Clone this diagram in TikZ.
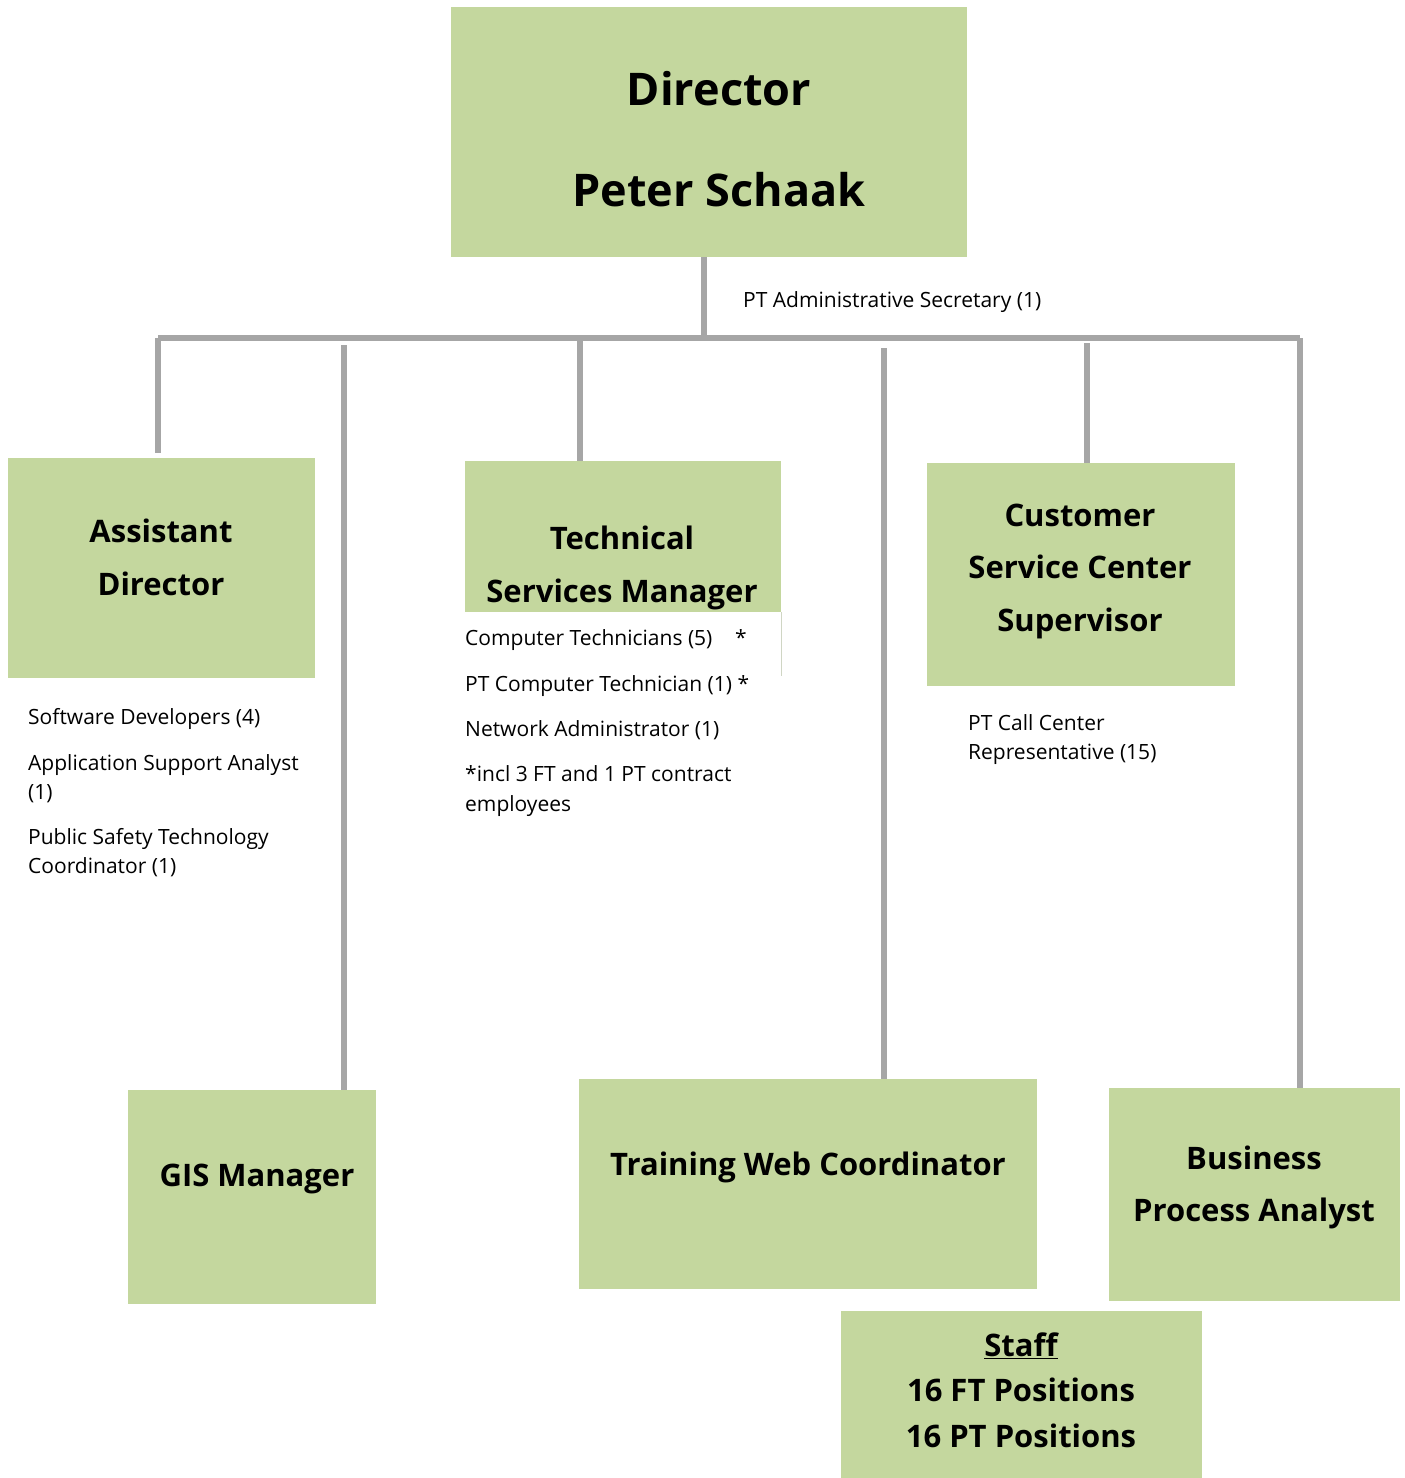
\documentclass[tikz,border=0pt]{standalone}
\usepackage{fontspec}
\setmainfont{Open Sans}
\usetikzlibrary{calc}
\definecolor{boxgreen}{RGB}{196,215,158}
\definecolor{linegray}{RGB}{166,166,166}
\definecolor{edgegray}{RGB}{208,214,196}
\begin{document}
\begin{tikzpicture}[x=1pt,y=-1pt,
  box/.style={fill=boxgreen, draw=none, inner sep=0pt, outer sep=0pt, anchor=north west},
  conn/.style={draw=linegray, line width=6pt},
  head/.style={font=\bfseries\fontsize{31}{31}\selectfont, inner sep=0pt, anchor=base},
  bighead/.style={font=\bfseries\fontsize{45}{45}\selectfont, inner sep=0pt, anchor=base},
  item/.style={font=\fontsize{21}{29}\selectfont, inner sep=0pt, anchor=base west},
]
\useasboundingbox (0,0) rectangle (1405,1478);

% boxes
\node[box, minimum width=516, minimum height=250] (dir) at (451,7) {};
\node[box, minimum width=307, minimum height=220] (ad)  at (8,458) {};
\node[box, minimum width=316, minimum height=151] (tsm) at (465,461) {};
\node[box, minimum width=308, minimum height=223] (csc) at (927,463) {};
\node[box, minimum width=248, minimum height=214] (gis) at (128,1090) {};
\node[box, minimum width=458, minimum height=210] (twc) at (579,1079) {};
\node[box, minimum width=291, minimum height=213] (bpa) at (1109,1088) {};
\node[box, minimum width=361, minimum height=167] (staff) at (841,1311) {};

% thin edge below the technical services box
\coordinate (tsmedge) at (781,676);
\draw[edgegray, line width=1pt] (tsm.south east) -- (tsmedge);

% connector bus
\coordinate (busL) at (158,338);
\coordinate (busR) at (1300,338);
\coordinate (dtap) at (704,338);
\coordinate (tgis) at (344,345);
\coordinate (ttsm) at (580,338);
\coordinate (ttwc) at (884,348);
\coordinate (tcsc) at (1087,343);

\draw[conn] (dtap |- dir.south) -- (dtap);
\draw[conn] (busL) -- (busR);
\draw[conn, shorten >=5pt] (busL) -- (busL |- ad.north);
\draw[conn] (tgis) -- (tgis |- gis.north);
\draw[conn] (ttsm) -- (ttsm |- tsm.north);
\draw[conn] (ttwc) -- (ttwc |- twc.north);
\draw[conn] (tcsc) -- (tcsc |- csc.north);
\draw[conn] (busR) -- (busR |- bpa.north);

% box titles
\node[bighead] (dirt1) at (719,105) {Director};
\node[bighead] (dirt2) at (719,206) {Peter Schaak};
\node[head] (adt1) at (161,542) {Assistant};
\node[head] (adt2) at (161,595) {Director};
\node[head] (tsmt1) at (622,549) {Technical};
\node[head] (tsmt2) at (622,602) {Services Manager};
\node[head] (csct1) at (1080,526) {Customer};
\node[head] (csct2) at (1080,578) {Service Center};
\node[head] (csct3) at (1080,631) {Supervisor};
\node[head] (gist) at (257,1186) {GIS Manager};
\node[head] (twct) at (808,1175) {Training Web Coordinator};
\node[head] (bpat1) at (1254,1169) {Business};
\node[head] (bpat2) at (1254,1221) {Process Analyst};
\node[head] (stt1) at (1021,1356) {\underline{Staff}};
\node[head] (stt2) at (1021,1401) {16 FT Positions};
\node[head] (stt3) at (1021,1447) {16 PT Positions};

% staff lists
\node[item] (sec) at (743,307) {PT Administrative Secretary (1)};

\node[item] (sd)   at (28,724) {Software Developers (4)};
\node[item] (asa1) at (28,770) {Application Support Analyst};
\node[item] (asa2) at (28,799) {(1)};
\node[item] (pst1) at (28,844) {Public Safety Technology};
\node[item] (pst2) at (28,873) {Coordinator (1)};

\node[item] (ct)    at (465,645) {Computer Technicians (5)};
\node[item] (ctst)  at (735,645) {*};
\node[item] (ptct)  at (465,691) {PT Computer Technician (1) *};
\node[item] (na)    at (465,736) {Network Administrator (1)};
\node[item] (note1) at (465,781) {*incl 3 FT and 1 PT contract};
\node[item] (note2) at (465,811) {employees};

\node[item] (cc1) at (968,730) {PT Call Center};
\node[item] (cc2) at (968,759) {Representative (15)};
\end{tikzpicture}
\end{document}
